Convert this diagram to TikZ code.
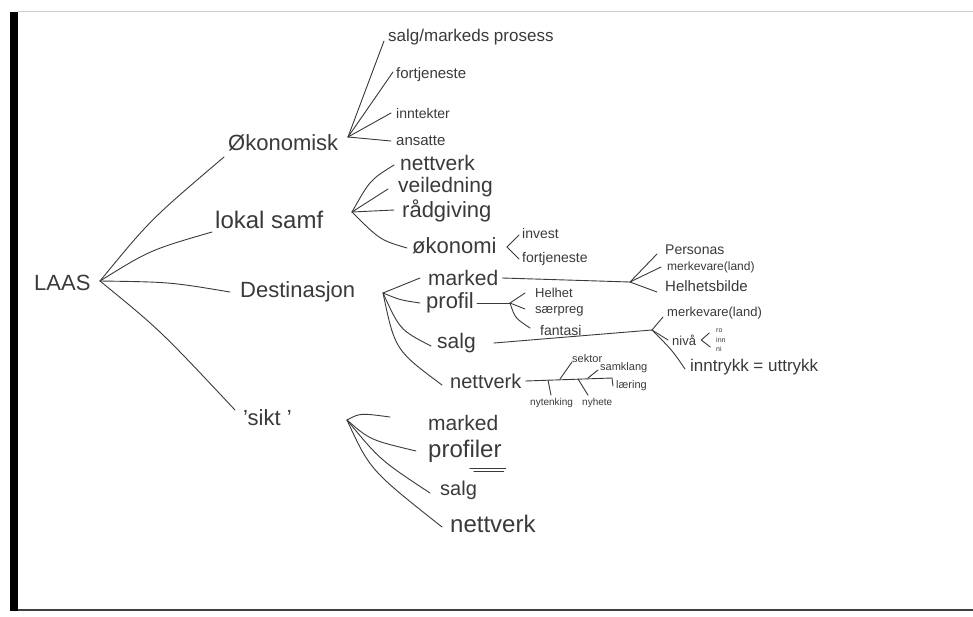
\documentclass[tikz,border=0pt]{standalone}
\usepackage{fontspec}
\setmainfont{Liberation Sans}
\definecolor{inkc}{HTML}{3A3A3A}
\begin{document}
\begin{tikzpicture}[x=1pt,y=-1pt,
  ink/.style={draw=inkc, line width=0.9pt, line cap=round},
  lbl/.style={anchor=west, inner sep=0pt, text=inkc, font=\fontsize{#1}{#1}\selectfont},
  lbl/.default=14]
\useasboundingbox (0,0) rectangle (973,616);
\fill[white] (0,0) rectangle (973,616);
% frame
\fill[black] (10,12) rectangle (18,611);
\draw[black!20, line width=1pt] (18,11) -- (973,11);
\draw[black!75, line width=2pt] (18,610) -- (973,610);

% root
\node[lbl=22] (laas) at (34,283) {LAAS};
\coordinate (laasH) at (100,281);

% main branches
\node[lbl=22] (oko) at (228,143) {Økonomisk};
\node[lbl=24] (lok) at (215,220) {lokal samf};
\node[lbl=22] (des) at (240,292) {Destinasjon};
\node[lbl=22] (sikt) at (243,418) {'sikt '};

\draw[ink] (laasH) .. controls (150,220) .. ([shift={(-4,14)}]oko.west);
\draw[ink] (laasH) .. controls (150,250) .. ([shift={(-3,12)}]lok.west);
\draw[ink] (laasH) .. controls (170,282) .. ([shift={(-10,0)}]des.west);
\draw[ink] (laasH) .. controls (160,330) .. ([shift={(-8,-8)}]sikt.west);

% Økonomisk children
\coordinate (okoH) at (348,137);
\node[lbl=17] (ok1) at (388,37) {salg/markeds prosess};
\node[lbl=15] (ok2) at (396,75) {fortjeneste};
\node[lbl=14] (ok3) at (396,113) {inntekter};
\node[lbl=15] (ok4) at (396,141) {ansatte};
\draw[ink] (okoH) -- ([shift={(-4,4)}]ok1.west);
\draw[ink] (okoH) -- ([shift={(-3,-3)}]ok2.west);
\draw[ink] (okoH) -- ([shift={(-5,0)}]ok3.west);
\draw[ink] (okoH) -- ([shift={(-5,0)}]ok4.west);

% lokal samf children
\coordinate (lokH) at (352,212);
\node[lbl=21] (lo1) at (400,163) {nettverk};
\node[lbl=21] (lo2) at (398,187) {veiledning};
\node[lbl=22] (lo3) at (402,211) {rådgiving};
\node[lbl=22] (lo4) at (412,246) {økonomi};
\draw[ink] (lokH) .. controls (370,180) .. ([shift={(-6,2)}]lo1.west);
\draw[ink] (lokH) -- ([shift={(-10,2)}]lo2.west);
\draw[ink] (lokH) -- ([shift={(-8,-1)}]lo3.west);
\draw[ink] (lokH) .. controls (380,240) .. ([shift={(-5,2)}]lo4.west);
\coordinate (lo4H) at (507,247);
\node[lbl=14] (lo41) at (522,233) {invest};
\node[lbl=14] (lo42) at (522,259) {fortjeneste};
\draw[ink] (lo4H) -- ([shift={(-3,2)}]lo41.west);
\draw[ink] (lo4H) -- ([shift={(-3,0)}]lo42.west);

% Destinasjon children
\coordinate (desH) at (383,293);
\node[lbl=21] (de1) at (428,278) {marked};
\node[lbl=22] (de2) at (426,303) {profil};
\node[lbl=21] (de3) at (437,343) {salg};
\node[lbl=20] (de4) at (450,381) {nettverk};
\draw[ink] (desH) -- ([shift={(-8,0)}]de1.west);
\draw[ink] (desH) .. controls (400,300) .. ([shift={(-6,0)}]de2.west);
\draw[ink] (desH) .. controls (400,330) .. ([shift={(-6,3)}]de3.west);
\draw[ink] (desH) .. controls (395,350) .. ([shift={(-8,4)}]de4.west);

% marked
\coordinate (de1H) at (630,282);
\draw[ink] ([xshift=4]de1.east) -- (de1H);
\node[lbl=14] (m1) at (665,250) {Personas};
\node[lbl=12] (m2) at (667,267) {merkevare(land)};
\node[lbl=15] (m3) at (665,286) {Helhetsbilde};
\draw[ink] (de1H) -- ([shift={(-8,4)}]m1.west);
\draw[ink] (de1H) -- ([shift={(-6,0)}]m2.west);
\draw[ink] (de1H) -- ([shift={(-8,6)}]m3.west);

% profil
\coordinate (de2H) at (510,303);
\draw[ink] ([xshift=3]de2.east) -- (de2H);
\node[lbl=13] (p1) at (535,293) {Helhet};
\node[lbl=13] (p2) at (535,311) {særpreg};
\node[lbl=14] (p3) at (540,330) {fantasi};
\draw[ink] (de2H) -- ([shift={(-10,0)}]p1.west);
\draw[ink] (de2H) -- ([shift={(-10,-2)}]p2.west);
\draw[ink] (de2H) .. controls (515,318) .. ([shift={(-10,-2)}]p3.west);

% salg
\coordinate (de3H) at (652,330);
\draw[ink] ([xshift=18]de3.east) -- (de3H);
\node[lbl=13] (s1) at (667,313) {merkevare(land)};
\node[lbl=13] (s2) at (672,340) {nivå};
\node[lbl=17] (s3) at (690,367) {inntrykk = uttrykk};
\draw[ink] (de3H) -- ([shift={(-4,4)}]s1.west);
\draw[ink] (de3H) -- ([shift={(-4,0)}]s2.west);
\draw[ink] (de3H) .. controls (672,350) .. ([shift={(-5,2)}]s3.west);
\draw[ink] ([xshift=4]s2.east) ++(9,-7) -- ([xshift=5]s2.east) -- ++(9,7);
\node[lbl=7] (s21) at (716,331) {ro};
\node[lbl=7] (s22) at (716,340) {inn};
\node[lbl=7] (s23) at (716,349) {ni};

% nettverk
\coordinate (de4E) at (612,378);
\draw[ink] ([xshift=4]de4.east) -- (de4E);
\node[lbl=11] (n1) at (572,359) {sektor};
\node[lbl=11] (n2) at (600,368) {samklang};
\node[lbl=11] (n3) at (616,386) {læring};
\node[lbl=10] (n4) at (530,403) {nytenking};
\node[lbl=10] (n5) at (582,403) {nyhete};
\coordinate (nb1) at (560,379);
\coordinate (nb2) at (588,378);
\coordinate (nb3) at (548,380);
\coordinate (nb4) at (578,379);
\draw[ink] (nb1) -- ([shift={(0,3)}]n1.west);
\draw[ink] (nb2) -- ([shift={(-2,2)}]n2.west);
\draw[ink] (de4E) -- ([shift={(-3,0)}]n3.west);
\draw[ink] (nb3) -- ([shift={(21,-3)}]n4.north west);
\draw[ink] (nb4) -- ([shift={(6,-3)}]n5.north west);

% sikt children
\coordinate (siktH) at (347,420);
\node[lbl=21] (k1) at (428,423) {marked};
\node[lbl=24] (k2) at (428,451) {profiler};
\node[lbl=20] (k3) at (440,490) {salg};
\node[lbl=24] (k4) at (450,524) {nettverk};
\draw[ink] (siktH) .. controls (360,413) .. ([shift={(-38,-6)}]k1.west);
\draw[ink] (siktH) .. controls (370,440) .. ([shift={(-12,0)}]k2.west);
\draw[ink] (siktH) .. controls (380,460) .. ([shift={(-10,3)}]k3.west);
\draw[ink] (siktH) .. controls (370,470) .. ([shift={(-8,3)}]k4.west);
\draw[ink] ([shift={(-32,6)}]k2.south east) -- ([shift={(4,6)}]k2.south east);
\draw[ink] ([shift={(-28,9)}]k2.south east) -- ([shift={(2,9)}]k2.south east);
\end{tikzpicture}
\end{document}
